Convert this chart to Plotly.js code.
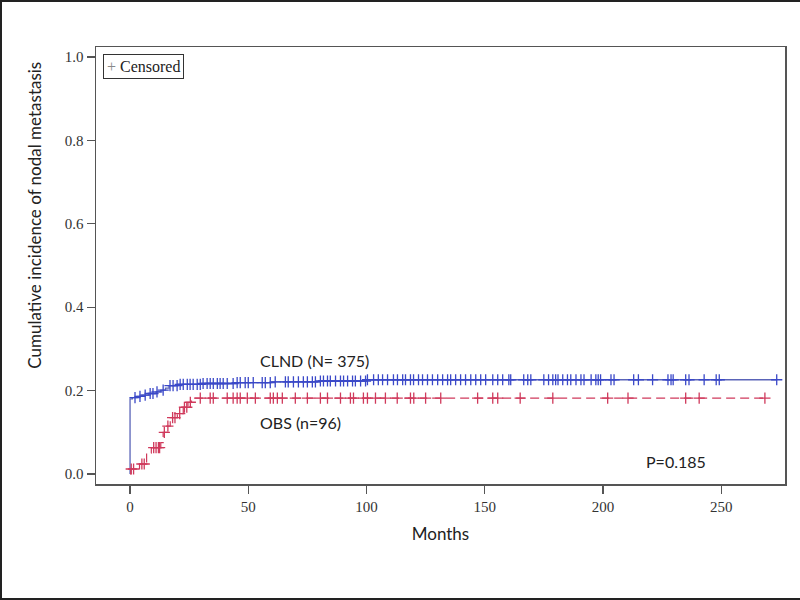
<!DOCTYPE html>
<html><head><meta charset="utf-8">
<script src="https://cdn.plot.ly/plotly-3.0.1.min.js"></script>
<style>html,body{margin:0;padding:0;background:#fff}#chart{width:800px;height:600px}</style>
</head><body><div id="chart"></div>
<script>
// CLND: event times (months) and cumulative incidence after each event
const clndTimes = [0, 1, 3, 5, 8, 11, 13, 15, 16.5, 20, 30, 45, 60, 80, 100];
const clndCum   = [0.18, 0.183, 0.186, 0.189, 0.193, 0.197, 0.201, 0.206, 0.212, 0.215, 0.217, 0.219, 0.221, 0.223, 0.226];
const clndEnd = 273.5;
const clndCensor = [2.1, 4.2, 6.4, 8.5, 9.7, 11.4, 14, 16.9, 18.2, 19.9, 21.2, 22.5, 24.2, 25.4, 26.7, 28.4, 29.7, 30.9, 32.6, 33.9, 35.2, 36.9, 38.1, 39.4, 41.1, 43.6, 45.3, 46.6, 48.7,
  50, 52.1, 55.9, 57.2, 59.3, 61.4, 65.7, 66.9, 69.1, 71.2, 73.3, 75, 77.1, 78.4, 80.5, 81.8, 83.5, 84.7, 86.9, 89, 90.3, 92, 94.1, 95.3, 97.5, 99.6,
  100.4, 103, 105, 106.8, 108.9, 111.4, 113.1, 115.3, 116.5, 118.6, 119.9, 122, 123.7, 125.8, 127.9, 130.1, 132.2, 134.3, 135.6, 137.7, 139.8, 141.9, 144.1, 146.2, 148.3, 150.4, 153.4, 155.5,
  157.6, 160.2, 161, 166.5, 168.2, 169.5, 175, 177, 178.8, 180, 181, 183, 185, 186.4, 188.6, 190.7, 192, 195, 197, 198, 199, 203.4, 204.7, 213,
  215, 221, 227.5, 228.8, 229.7, 235, 236.4, 242.8, 247.9, 249.2, 273.5];

// OBS
const obsTimes = [0.3, 4, 7, 9, 13, 14, 15.5, 17, 20, 22.5, 24.5, 26];
const obsCum   = [0.012, 0.024, 0.05, 0.063, 0.075, 0.10, 0.115, 0.135, 0.145, 0.16, 0.172, 0.182];
const obsEnd = 269;
const obsCensor = [0.5, 1.5, 5, 6, 10, 11, 12, 12.5, 14.5, 16, 18, 19, 21, 23, 24, 25.5,
  29.7, 33.9, 35.2, 41.1, 43.6, 45.3, 46.6, 49.6, 53, 59.3, 60.6, 62.3, 64.4, 69.9, 75, 80.5, 83.5, 89, 93.2, 94.5,
  98.7, 100.4, 103.8, 108, 113, 118.6, 120, 125, 131.4, 147, 153.4, 155.5, 165, 178.8, 202, 210.6, 235, 240.7, 268.5];

const xTicks = [0, 50, 100, 150, 200, 250];
const yTicks = [0, 0.2, 0.4, 0.6, 0.8, 1.0];

function stepAt(times, cums, t) {
  let v = 0;
  for (let i = 0; i < times.length; i++) { if (times[i] <= t) v = cums[i]; }
  return v;
}

const blue = '#3a48c8', blueLine = '#5a64b8';
const red = '#d03a5c';

const traces = [
  {x: [0, ...clndTimes, clndEnd], y: [0, ...clndCum, clndCum[clndCum.length-1]], mode: 'lines',
   line: {shape: 'hv', color: blueLine, width: 1.3}, showlegend: false, hoverinfo: 'skip'},
  {x: [0, ...obsTimes, obsEnd], y: [0, ...obsCum, obsCum[obsCum.length-1]], mode: 'lines',
   line: {shape: 'hv', color: red, width: 1.2, dash: '9px,5px'}, showlegend: false, hoverinfo: 'skip'},
  {x: clndCensor, y: clndCensor.map(t => stepAt(clndTimes, clndCum, t)), mode: 'markers',
   marker: {symbol: 'cross-thin-open', size: 8, color: blue, line: {color: blue, width: 1.3}}, showlegend: false},
  {x: obsCensor, y: obsCensor.map(t => stepAt(obsTimes, obsCum, t)), mode: 'markers',
   marker: {symbol: 'cross-thin-open', size: 8, color: red, line: {color: red, width: 1.3}}, showlegend: false}
];

const sans = 'Lato, "Open Sans", sans-serif';
const serif = '"Liberation Serif", "DejaVu Serif", serif';

const layout = {
  width: 800, height: 600,
  margin: {l: 96, r: 15, t: 47, b: 116},
  paper_bgcolor: '#fff', plot_bgcolor: '#fff',
  showlegend: false,
  xaxis: {range: [-14.4, 277], tickvals: xTicks, ticks: 'outside', ticklen: 8, tickwidth: 1.2, tickcolor: '#555',
    showline: true, linecolor: '#555', linewidth: 1.5, mirror: true, showgrid: false, zeroline: false,
    tickfont: {family: serif, size: 15, color: '#333'},
    title: {text: 'Months', font: {family: sans, size: 17, color: '#222'}, standoff: 14}},
  yaxis: {range: [-0.024, 1.024], tickvals: yTicks, tickformat: '.1f', ticks: 'outside', ticklen: 8, tickwidth: 1.2, tickcolor: '#555',
    showline: true, linecolor: '#555', linewidth: 1.5, mirror: true, showgrid: false, zeroline: false,
    tickfont: {family: serif, size: 15, color: '#333'}},
  annotations: [
    {text: 'Cumulative incidence of nodal metastasis', textangle: -90, xref: 'paper', yref: 'paper',
     x: -0.0885, y: 0.614, xanchor: 'center', yanchor: 'middle', showarrow: false,
     font: {family: sans, size: 17, color: '#222'}},
    {text: '<span style="color:#888">+</span> Censored', xref: 'paper', yref: 'paper', x: 0.01, y: 0.984,
     xanchor: 'left', yanchor: 'top', showarrow: false, bordercolor: '#333', borderwidth: 1, borderpad: 3,
     font: {family: serif, size: 16, color: '#222'}},
    {text: 'CLND (N= 375)', x: 78, y: 0.273, xref: 'x', yref: 'y', showarrow: false, xanchor: 'center', yanchor: 'middle',
     font: {family: sans, size: 16, color: '#222'}},
    {text: 'OBS (n=96)', x: 72, y: 0.124, xref: 'x', yref: 'y', showarrow: false, xanchor: 'center', yanchor: 'middle',
     font: {family: sans, size: 16, color: '#222'}},
    {text: 'P=0.185', x: 231, y: 0.029, xref: 'x', yref: 'y', showarrow: false, xanchor: 'center', yanchor: 'middle',
     font: {family: sans, size: 16, color: '#222'}}
  ],
  shapes: [
    {type: 'rect', xref: 'paper', yref: 'paper', x0: -95/689, x1: 799/689, y0: -115/437, y1: 483/437,
     line: {color: '#222', width: 2}, fillcolor: 'rgba(0,0,0,0)'}
  ]
};

Plotly.newPlot('chart', traces, layout, {staticPlot: true, displayModeBar: false});
</script></body></html>
